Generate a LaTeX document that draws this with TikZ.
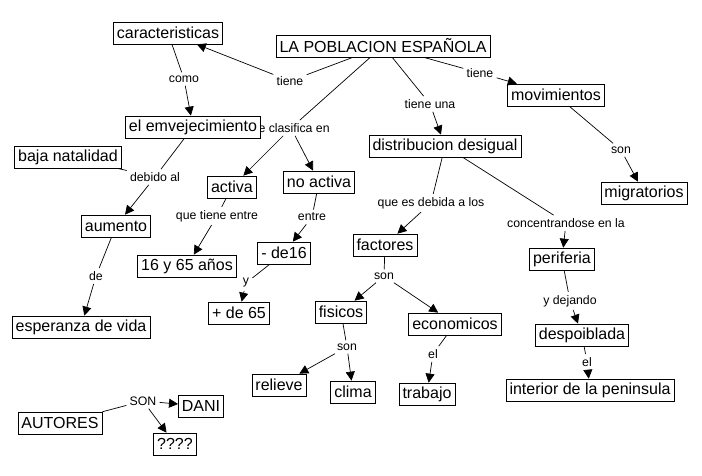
\documentclass[tikz,border=0pt]{standalone}
\usepackage{fontspec}
\setmainfont{Liberation Sans}
\usetikzlibrary{arrows.meta}

\begin{document}
\begin{tikzpicture}[x=1pt,y=-1pt,>={Triangle[length=9pt,width=9pt]},line width=0.7pt,
	concept/.style={draw,fill=white,font=\fontsize{16}{18}\selectfont,inner xsep=3.5pt,inner ysep=0pt,minimum height=22pt},
	link/.style={font=\fontsize{12.3}{14}\selectfont,inner sep=3pt}]
	\useasboundingbox (0,0) rectangle (702,476);
	% link words
	\node[link] (l1) at (290,81) {tiene};
	\node[link] (l2) at (184,79) {como};
	\node[link] (l3) at (291,128) {se clasifica en};
	\node[link] (l4) at (155,177) {debido al};
	\node[link] (l5) at (217,216) {que tiene entre};
	\node[link] (l6) at (312,217) {entre};
	\node[link] (l7) at (96,276) {de};
	\node[link] (l8) at (246,283) {y};
	\node[link] (l9) at (347,347) {son};
	\node[link] (l10) at (143,401) {SON};
	\node[link] (l11) at (480,73) {tiene};
	\node[link] (l12) at (430,104) {tiene una};
	\node[link] (l13) at (621,150) {son};
	\node[link] (l14) at (431,203) {que es debida a los};
	\node[link] (l15) at (566,223) {concentrandose en la};
	\node[link] (l16) at (384,276) {son};
	\node[link] (l17) at (570,301) {y dejando};
	\node[link] (l18) at (433,354) {el};
	\node[link] (l19) at (587,362) {el};
	% concepts
	\node[concept] (pob) at (383,46) {LA POBLACION ESPAÑOLA};
	\node[concept] (car) at (168,33) {caracteristicas};
	\node[concept] (env) at (193,127) {el emvejecimiento};
	\node[concept] (baja) at (68,157) {baja natalidad};
	\node[concept] (act) at (232,187) {activa};
	\node[concept] (noact) at (319,182) {no activa};
	\node[concept] (aum) at (116,226) {aumento};
	\node[concept] (esp) at (81,327) {esperanza de vida};
	\node[concept] (edad) at (187,266) {16 y 65 años};
	\node[concept] (men) at (284,253) {- de16};
	\node[concept] (may) at (239,313) {+ de 65};
	\node[concept] (mov) at (556,95) {movimientos};
	\node[concept] (mig) at (644,193) {migratorios};
	\node[concept] (dist) at (445,146) {distribucion desigual};
	\node[concept] (fac) at (385,245) {factores};
	\node[concept] (fis) at (341,312) {fisicos};
	\node[concept] (eco) at (455,324) {economicos};
	\node[concept] (rel) at (279,385) {relieve};
	\node[concept] (cli) at (353,392) {clima};
	\node[concept] (trab) at (427,394) {trabajo};
	\node[concept] (peri) at (562,259) {periferia};
	\node[concept] (desp) at (582,335) {despoiblada};
	\node[concept] (inter) at (590,390) {interior de la peninsula};
	\node[concept] (aut) at (60,423) {AUTORES};
	\node[concept] (dani) at (201,406) {DANI};
	\node[concept] (inc) at (175,444) {????};
	% connectors
	\draw (pob) -- (l1); \draw[->] (l1) -- (car);
	\draw (car) -- (l2); \draw[->] (l2) -- (env);
	\draw (pob) -- (l3); \draw[->] (l3) -- (act); \draw[->] (l3) -- (noact);
	\draw (env) -- (l4); \draw (baja) -- (l4); \draw[->] (l4) -- (aum);
	\draw (act) -- (l5); \draw[->] (l5) -- (edad);
	\draw (noact) -- (l6); \draw[->] (l6) -- (men);
	\draw (aum) -- (l7); \draw[->] (l7) -- (esp);
	\draw (men) -- (l8); \draw[->] (l8) -- (may);
	\draw (fis) -- (l9); \draw[->] (l9) -- (rel); \draw[->] (l9) -- (cli);
	\draw (aut) -- (l10); \draw[->] (l10) -- (dani); \draw[->] (l10) -- (inc);
	\draw (pob) -- (l11); \draw[->] (l11) -- (mov);
	\draw (pob) -- (l12); \draw[->] (l12) -- (dist);
	\draw (mov) -- (l13); \draw[->] (l13) -- (mig);
	\draw (dist) -- (l14); \draw[->] (l14) -- (fac);
	\draw (dist) -- (l15); \draw[->] (l15) -- (peri);
	\draw (fac) -- (l16); \draw[->] (l16) -- (fis); \draw[->] (l16) -- (eco);
	\draw (peri) -- (l17); \draw[->] (l17) -- (desp);
	\draw (eco) -- (l18); \draw[->] (l18) -- (trab);
	\draw (desp) -- (l19); \draw[->] (l19) -- (inter);
\end{tikzpicture}
\end{document}
